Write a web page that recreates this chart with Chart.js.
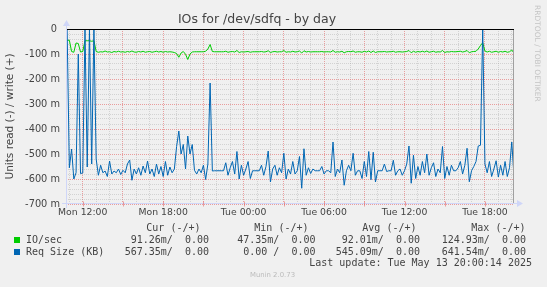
<!DOCTYPE html>
<html>
<head>
<meta charset="utf-8">
<script src="https://cdn.jsdelivr.net/npm/chart.js@4.4.1/dist/chart.umd.min.js"></script>
<style>
  html, body { margin: 0; padding: 0; background: #F0F0F0; }
  #wrap { position: relative; width: 547px; height: 287px; overflow: hidden; background: #F0F0F0; }
  #chart { position: absolute; left: 0; top: 0; }
  .mono { position: absolute; font-family: "DejaVu Sans Mono", monospace; font-size: 10px; line-height: 12px; color: #444; white-space: pre; }
  .r { text-align: right; }
  .sq { position: absolute; width: 6px; height: 6px; }
  #rrd { position: absolute; left: 533px; top: 5px; writing-mode: vertical-rl; font-family: "DejaVu Sans", sans-serif; font-size: 7.5px; line-height: 8px; color: #C4C4C4; white-space: pre; }
  #munin { position: absolute; left: 0; width: 545px; top: 271px; text-align: center; font-family: "DejaVu Sans", sans-serif; font-size: 6.9px; line-height: 9px; color: #BBBBBB; }
</style>
</head>
<body>
<div id="wrap">
  <canvas id="chart" width="547" height="287"></canvas>
  <div id="legend"></div>
  <div id="rrd">RRDTOOL / TOBI OETIKER</div>
  <div id="munin">Munin 2.0.73</div>
</div>
<script>
// ---------------- data ----------------
const chartTitle = 'IOs for /dev/sdfq - by day';
const yAxisTitle = 'Units read (-) / write (+)';
const seriesNames = ['IO/sec', 'Req Size (KB)'];
const seriesColors = ['#00CC00', '#0066B3'];

// sampling: first sample Mon 10:50, one sample every 10 minutes (hours counted from Mon 00:00)
const sampleStartHour = 10 + 50 / 60;
const sampleStepMinutes = 10;
const axisStartHour = 10.75;
const axisEndHour = 44 + 10 / 60;

// read side values (plotted below zero), milli-units
const ioPerSec = [
  -45,-45,-90,-93,-56,-58,-92,-90,-47,-47,
  -47,-49,-47,-90,-93,-91,-92,-88,-92,-91,
  -94,-90,-92,-89,-92,-91,-93,-90,-92,-88,
  -92,-93,-90,-92,-89,-93,-91,-90,-93,-91,
  -89,-92,-90,-93,-90,-92,-91,-92,-94,-98,
  -113,-96,-90,-101,-122,-100,-92,-91,-91,-91,
  -91,-91,-89,-80,-62,-90,-91,-91,-91,-91,
  -91,-89,-93,-91,-90,-92,-86,-94,-91,-92,
  -91,-90,-93,-91,-91,-91,-91,-90,-92,-91,
  -87,-94,-91,-90,-92,-91,-91,-86,-93,-91,
  -92,-89,-92,-91,-88,-96,-87,-92,-90,-92,
  -91,-91,-91,-91,-90,-92,-91,-91,-92,-86,
  -93,-91,-92,-89,-95,-91,-90,-91,-88,-93,
  -91,-91,-93,-89,-92,-88,-94,-88,-94,-91,
  -91,-91,-90,-92,-91,-91,-89,-93,-91,-91,
  -92,-91,-90,-86,-95,-89,-93,-90,-92,-89,
  -92,-88,-93,-91,-89,-93,-91,-92,-86,-94,
  -91,-92,-90,-91,-91,-90,-89,-92,-90,-86,
  -95,-91,-90,-89,-80,-66,-55,-88,-92,-89,
  -93,-91,-89,-93,-90,-92,-89,-93,-91,-84,
  -96
];
const reqSizeKB = [
  0,-555,-480,-600,-575,-100,-578,-576,0,-552,
  0,-540,0,-520,-585,-545,-575,-568,-590,-528,
  -580,-568,-575,-560,-582,-565,-575,-540,-524,-605,
  -560,-580,-555,-585,-548,-575,-528,-580,-560,-590,
  -540,-580,-550,-590,-530,-585,-552,-575,-560,-470,
  -408,-500,-462,-560,-428,-500,-462,-565,-580,-560,
  -575,-545,-602,-540,-216,-568,-567,-567,-567,-567,
  -567,-535,-585,-555,-530,-580,-490,-600,-545,-585,
  -560,-530,-598,-567,-567,-567,-567,-545,-585,-550,
  -488,-612,-560,-545,-585,-555,-575,-497,-600,-560,
  -580,-530,-580,-567,-510,-637,-479,-585,-555,-578,
  -560,-567,-567,-567,-550,-580,-567,-567,-575,-452,
  -590,-560,-575,-524,-625,-567,-545,-567,-497,-585,
  -567,-567,-598,-530,-590,-490,-603,-493,-612,-567,
  -567,-567,-540,-570,-567,-567,-525,-585,-567,-560,
  -585,-567,-540,-468,-617,-505,-598,-550,-585,-530,
  -575,-500,-585,-555,-535,-590,-560,-575,-470,-598,
  -550,-585,-545,-567,-567,-555,-530,-580,-545,-477,
  -611,-567,-550,-530,-468,-465,0,-540,-575,-530,
  -590,-560,-527,-592,-545,-585,-530,-590,-555,-452,
  -590
];

const yMin = -700, yMax = 0, yMinorStep = 20, yMajorStep = 100;
const xTickHours = [12, 18, 24, 30, 36, 42];
const xTickLabels = ['Mon 12:00', 'Mon 18:00', 'Tue 00:00', 'Tue 06:00', 'Tue 12:00', 'Tue 18:00'];
const xMajorEveryHours = 3;

const legendHeaders = ['Cur (-/+)', 'Min (-/+)', 'Avg (-/+)', 'Max (-/+)'];
const legendIO = ['91.26m/  0.00', '47.35m/  0.00', '92.01m/  0.00', '124.93m/  0.00'];
const legendReq = ['567.35m/  0.00', '0.00 /  0.00', '545.09m/  0.00', '641.54m/  0.00'];
const lastUpdate = 'Last update: Tue May 13 20:00:14 2025';

// ---------------- legend (HTML text) ----------------
(function buildLegend() {
  const lg = document.getElementById('legend');
  const W = 547;
  const headerEnds = [200.5, 308.5, 416.5, 525.5];
  const valueEnds = [209, 315.5, 420, 526];
  function txt(s, top, rightEdge, left) {
    const d = document.createElement('div');
    d.className = 'mono' + (rightEdge != null ? ' r' : '');
    d.textContent = s;
    d.style.top = top + 'px';
    if (rightEdge != null) d.style.right = (W - rightEdge) + 'px';
    else d.style.left = left + 'px';
    lg.appendChild(d);
  }
  legendHeaders.forEach((h, i) => txt(h, 221.5, headerEnds[i]));
  const rows = [legendIO, legendReq];
  rows.forEach((vals, r) => {
    const top = 233.8 + r * 12;
    const sq = document.createElement('div');
    sq.className = 'sq';
    sq.style.left = '14px';
    sq.style.top = (237 + r * 12) + 'px';
    sq.style.background = seriesColors[r];
    lg.appendChild(sq);
    txt(seriesNames[r], top, null, 26);
    vals.forEach((v, i) => txt(v, top, valueEnds[i]));
  });
  txt(lastUpdate, 257.3, 532);
})();

// ---------------- chart ----------------
const toPoints = arr => arr.map((v, i) => ({ x: sampleStartHour + i * sampleStepMinutes / 60, y: v }));

const yTicks = [];
for (let v = yMin; v <= yMax; v += yMinorStep) yTicks.push(v);
const xHourTicks = [];
for (let h = Math.ceil(axisStartHour); h <= Math.floor(axisEndHour); h++) xHourTicks.push(h);

const MINOR = 'rgba(160,160,160,0.38)';
const MAJOR = 'rgba(228,90,90,0.55)';
const AXIS = '#CFD6F8';
const FONT_COL = '#444444';

const muninFrame = {
  id: 'muninFrame',
  afterDatasetsDraw(chart) {
    const { ctx, chartArea: a, scales: { x } } = chart;
    ctx.save();
    ctx.strokeStyle = '#A0A0A0';
    ctx.lineWidth = 1;
    ctx.beginPath();
    ctx.moveTo(Math.round(a.right) - 0.5, a.top);
    ctx.lineTo(Math.round(a.right) - 0.5, a.bottom);
    ctx.stroke();
    ctx.strokeStyle = '#000000';
    ctx.beginPath();
    ctx.moveTo(a.left, Math.round(a.top) + 0.5);
    ctx.lineTo(a.right, Math.round(a.top) + 0.5);
    ctx.stroke();
    const by = Math.round(a.bottom) - 0.5;
    const lx = Math.round(a.left) + 0.5;
    ctx.strokeStyle = AXIS;
    ctx.beginPath();
    ctx.moveTo(a.left - 4, by); ctx.lineTo(a.right + 4, by);
    ctx.moveTo(lx, a.bottom + 4); ctx.lineTo(lx, a.top - 4);
    ctx.stroke();
    ctx.strokeStyle = MAJOR;
    ctx.beginPath();
    xHourTicks.forEach(h => {
      if (h % xMajorEveryHours === 0) {
        const px = Math.round(x.getPixelForValue(h)) + 0.5;
        ctx.moveTo(px, by - 2); ctx.lineTo(px, by + 3);
      }
    });
    ctx.stroke();
    ctx.fillStyle = AXIS;
    ctx.beginPath();
    ctx.moveTo(a.right + 3, by - 3.5); ctx.lineTo(a.right + 9, by); ctx.lineTo(a.right + 3, by + 3.5);
    ctx.closePath(); ctx.fill();
    ctx.beginPath();
    ctx.moveTo(lx - 3.5, a.top - 3); ctx.lineTo(lx, a.top - 9); ctx.lineTo(lx + 3.5, a.top - 3);
    ctx.closePath(); ctx.fill();
    ctx.restore();
  }
};

new Chart(document.getElementById('chart'), {
  type: 'line',
  data: {
    datasets: [
      { label: seriesNames[0], data: toPoints(ioPerSec), borderColor: seriesColors[0], borderWidth: 1, pointRadius: 0, tension: 0, order: 1 },
      { label: seriesNames[1], data: toPoints(reqSizeKB), borderColor: seriesColors[1], borderWidth: 1, pointRadius: 0, tension: 0, order: 0 }
    ]
  },
  options: {
    responsive: false,
    animation: false,
    devicePixelRatio: 1,
    layout: { padding: { top: 0, left: 0, right: 33, bottom: 63 } },
    plugins: {
      legend: { display: false },
      tooltip: { enabled: false },
      title: {
        display: true, text: chartTitle, color: FONT_COL,
        font: { family: 'DejaVu Sans', size: 12.5, weight: 'normal', lineHeight: 1.2 },
        padding: { top: 12.5, bottom: 1.5 }
      }
    },
    scales: {
      x: {
        type: 'linear', min: axisStartHour, max: axisEndHour,
        afterBuildTicks: s => { s.ticks = xHourTicks.map(h => ({ value: h })); },
        afterFit: s => { s.height = 20; },
        grid: {
          drawTicks: false, lineWidth: 1,
          color: c => (c.tick && c.tick.value % xMajorEveryHours === 0) ? MAJOR : MINOR
        },
        border: { display: false, dash: [1, 1] },
        ticks: {
          autoSkip: false, maxRotation: 0, minRotation: 0, padding: 3, color: FONT_COL,
          font: { family: 'DejaVu Sans', size: 9.3 },
          callback: v => { const k = xTickHours.indexOf(v); return k >= 0 ? xTickLabels[k] : ''; }
        }
      },
      y: {
        min: yMin, max: yMax,
        afterBuildTicks: s => { s.ticks = yTicks.map(v => ({ value: v })); },
        afterFit: s => { s.width = 66; },
        grid: {
          drawTicks: false, lineWidth: 1,
          color: c => {
            const v = c.tick ? c.tick.value : 1;
            if (v === 0) return '#000000';
            return v % yMajorStep === 0 ? MAJOR : MINOR;
          }
        },
        border: { display: false, dash: c => (c.tick && c.tick.value === 0) ? [] : [1, 1] },
        title: {
          display: true, text: yAxisTitle, color: FONT_COL,
          font: { family: 'DejaVu Sans', size: 10.5, weight: 'normal', lineHeight: 1.2 },
          padding: { top: 4.2, bottom: 0 }
        },
        ticks: {
          autoSkip: false, padding: 6, color: FONT_COL,
          font: { family: 'DejaVu Sans', size: 9.8 },
          callback: v => (v % yMajorStep === 0) ? (v === 0 ? '0 ' : v + ' m') : ''
        }
      }
    }
  },
  plugins: [muninFrame]
});
</script>
</body>
</html>
